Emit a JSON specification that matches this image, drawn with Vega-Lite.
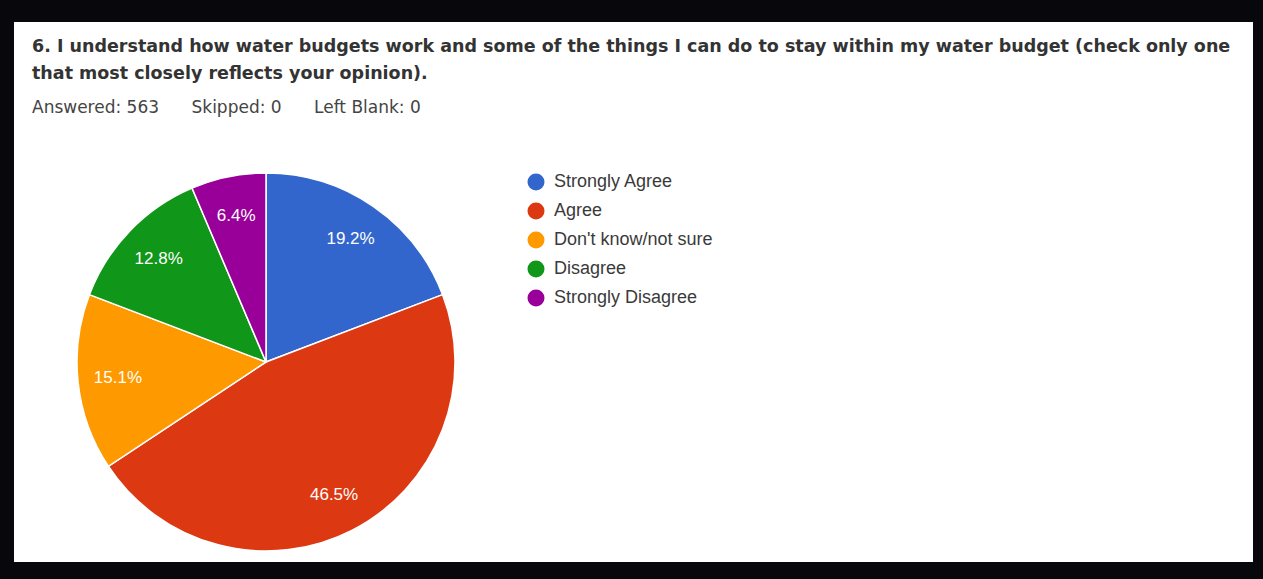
{
  "$schema": "https://vega.github.io/schema/vega-lite/v6.json",
  "background": "#07070c",
  "padding": {"left": 14, "top": 22, "right": 10, "bottom": 17},
  "autosize": {"type": "pad"},
  "title": {
    "text": ["6. I understand how water budgets work and some of the things I can do to stay within my water budget (check only one", "that most closely reflects your opinion)."],
    "subtitle": "Answered: 563\u00a0\u00a0\u00a0\u00a0\u00a0\u00a0Skipped: 0\u00a0\u00a0\u00a0\u00a0\u00a0\u00a0Left Blank: 0",
    "anchor": "start",
    "frame": "group",
    "dx": 18,
    "offset": -94,
    "font": "DejaVu Sans",
    "fontSize": 17.5,
    "fontWeight": "bold",
    "lineHeight": 27,
    "color": "#333333",
    "subtitleFont": "DejaVu Sans",
    "subtitleFontSize": 17,
    "subtitleColor": "#444444",
    "subtitlePadding": 18,
    "zindex": 1
  },
  "datasets": {
    "pie": [
      {"answer": "Strongly Agree", "share": 0.192, "idx": 1},
      {"answer": "Agree", "share": 0.465, "idx": 2},
      {"answer": "Don't know/not sure", "share": 0.151, "idx": 3},
      {"answer": "Disagree", "share": 0.128, "idx": 4},
      {"answer": "Strongly Disagree", "share": 0.064, "idx": 5}
    ]
  },
  "spacing": 0,
  "vconcat": [
    {
      "width": 1239,
      "height": 140,
      "view": {"fill": "white", "stroke": null},
      "data": {"values": []},
      "mark": "rect",
      "encoding": {}
    },
    {
      "spacing": 0,
      "resolve": {"legend": {"color": "independent"}},
      "hconcat": [
        {
          "width": 504,
          "height": 400,
          "view": {"fill": "white", "stroke": null},
          "data": {"name": "pie"},
          "encoding": {
            "theta": {"field": "share", "type": "quantitative", "stack": true},
            "order": {"field": "idx", "type": "quantitative"}
          },
          "layer": [
            {
              "mark": {"type": "arc", "radius": 189, "stroke": "white", "strokeWidth": 1.5},
              "encoding": {
                "color": {
                  "field": "answer",
                  "type": "nominal",
                  "scale": {
                    "domain": ["Strongly Agree", "Agree", "Don't know/not sure", "Disagree", "Strongly Disagree"],
                    "range": ["#3366cc", "#dc3912", "#ff9900", "#109618", "#990099"]
                  },
                  "legend": null
                }
              }
            },
            {
              "mark": {"type": "text", "radius": 149, "color": "white", "font": "Liberation Sans", "fontSize": 17},
              "encoding": {
                "text": {"field": "share", "type": "quantitative", "format": ".1%"}
              }
            }
          ]
        },
        {
          "width": 735,
          "height": 400,
          "view": {"fill": "white", "stroke": null},
          "data": {"name": "pie"},
          "mark": {"type": "arc", "radius": 0},
          "encoding": {
            "theta": {"field": "share", "type": "quantitative", "stack": true},
            "color": {
              "field": "answer",
              "type": "nominal",
              "scale": {
                "domain": ["Strongly Agree", "Agree", "Don't know/not sure", "Disagree", "Strongly Disagree"],
                "range": ["#3366cc", "#dc3912", "#ff9900", "#109618", "#990099"]
              },
              "legend": {
                "title": null,
                "orient": "none",
                "legendX": 9,
                "legendY": 11,
                "padding": 0,
                "symbolType": "circle",
                "symbolSize": 289,
                "symbolStrokeWidth": 0,
                "symbolOpacity": 1,
                "labelFont": "Liberation Sans",
                "labelFontSize": 18,
                "labelColor": "#3a3a3a",
                "labelOffset": 9,
                "rowPadding": 11
              }
            }
          }
        }
      ]
    }
  ],
  "config": {
    "view": {"fill": "white", "stroke": null}
  }
}
